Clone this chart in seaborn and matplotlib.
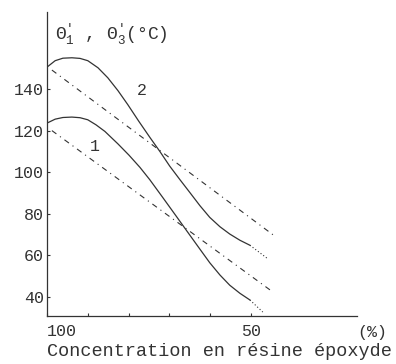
import matplotlib
matplotlib.use("Agg")
import matplotlib.pyplot as plt
import seaborn as sns
import pandas as pd

# ---- data ----
c2_x = [100.0, 98.0, 96.1, 93.9, 91.9, 90.0, 87.5, 85.1, 82.6, 80.2, 77.5, 74.8,
        72.3, 69.9, 67.4, 65.0, 62.5, 60.1, 57.6, 55.2, 52.7, 50.25]
c2_y = [150.5, 153.6, 154.8, 155.0, 154.7, 153.6, 150.2, 145.4, 139.2, 132.5, 124.5, 116.8,
        109.9, 102.9, 96.4, 90.3, 83.9, 78.3, 73.8, 70.3, 67.3, 64.9]
c2_ext_x = [50.25, 45.8]
c2_ext_y = [64.9, 58.3]
c2_lin_x = [98.8, 44.5]
c2_lin_y = [149.1, 69.8]

c1_x = [100.0, 98.0, 96.1, 93.9, 91.9, 90.0, 88.0, 85.8, 82.6, 79.9, 77.2, 74.8,
        71.6, 68.4, 65.4, 62.5, 60.1, 57.6, 55.2, 52.7, 50.25]
c1_y = [123.6, 125.5, 126.3, 126.5, 126.2, 125.2, 122.8, 119.6, 113.6, 108.2, 102.3, 96.4,
        87.8, 79.1, 70.9, 63.0, 56.5, 50.6, 45.7, 41.8, 38.6]
c1_ext_x = [50.25, 47.1]
c1_ext_y = [38.6, 32.8]
c1_lin_x = [98.8, 45.3]
c1_lin_y = [120.0, 43.4]

x_ticks = [100, 50]
x_minor = [90, 80, 70, 60]
y_ticks = [40, 60, 80, 100, 120, 140]
curve_labels = ["1", "2"]
label_pos = [(88.2, 112.3), (76.8, 139.5)]

sns.set_style("ticks")
plt.rcParams["font.family"] = ["Liberation Mono", "DejaVu Sans"]
plt.rcParams["mathtext.fontset"] = "custom"
plt.rcParams["mathtext.rm"] = "Liberation Mono"
plt.rcParams["mathtext.it"] = "Liberation Mono"

ink = "#333333"
fig = plt.figure(figsize=(3.96, 3.64), dpi=100)
ax = fig.add_axes([47 / 396, 1 - 316 / 364, (357 - 47) / 396, (316 - 12) / 364])

def line(xs, ys, **kw):
    df = pd.DataFrame({"x": xs, "y": ys})
    sns.lineplot(data=df, x="x", y="y", ax=ax, sort=False, estimator=None,
                 color=ink, **kw)

line(c2_x, c2_y, linewidth=0.9)
line(c1_x, c1_y, linewidth=0.9)
line(c2_ext_x, c2_ext_y, linewidth=0.8, linestyle=(0, (1, 2)))
line(c1_ext_x, c1_ext_y, linewidth=0.8, linestyle=(0, (1, 2)))
line(c2_lin_x, c2_lin_y, linewidth=0.8, linestyle=(0, (5, 4, 1, 4)))
line(c1_lin_x, c1_lin_y, linewidth=0.8, linestyle=(0, (5, 4, 1, 4)))

for lab, (lx, ly) in zip(curve_labels, label_pos):
    ax.text(lx, ly, lab, fontsize=12, color=ink, ha="center", va="center")

ax.set_xlim(100, 24)
ax.set_ylim(30.9, 177)
ax.set_xticks(x_ticks)
ax.set_xticks(x_minor, minor=True)
ax.set_yticks(y_ticks)
ax.set_xticklabels([str(v) for v in x_ticks])
ax.get_xticklabels()[0].set_horizontalalignment("left")
ax.tick_params(axis="both", direction="in", length=2.5, width=0.8, colors=ink,
               labelsize=12, labelcolor=ink)
ax.tick_params(axis="x", which="minor", direction="in", length=2, width=0.8, colors=ink)
ax.tick_params(axis="x", pad=6)
ax.tick_params(axis="y", pad=2)
for s in ["top", "right"]:
    ax.spines[s].set_visible(False)
for s in ["left", "bottom"]:
    ax.spines[s].set_color(ink)
    ax.spines[s].set_linewidth(0.9)
ax.set_xlabel("")
ax.set_ylabel("")

ax.text(0.026, 0.926, r"$\Theta_1^{\prime}$ , $\Theta_3^{\prime}$(°C)", transform=ax.transAxes,
        fontsize=13, color=ink, ha="left", va="center")
fig.text(372 / 396, 1 - 333 / 364, "(%)", fontsize=12, color=ink, ha="center", va="center")
fig.text(219 / 396, 1 - 352 / 364, "Concentration en résine époxyde", fontsize=13.3,
         color=ink, ha="center", va="center")

fig.savefig("out.png", dpi=100, facecolor="white")
